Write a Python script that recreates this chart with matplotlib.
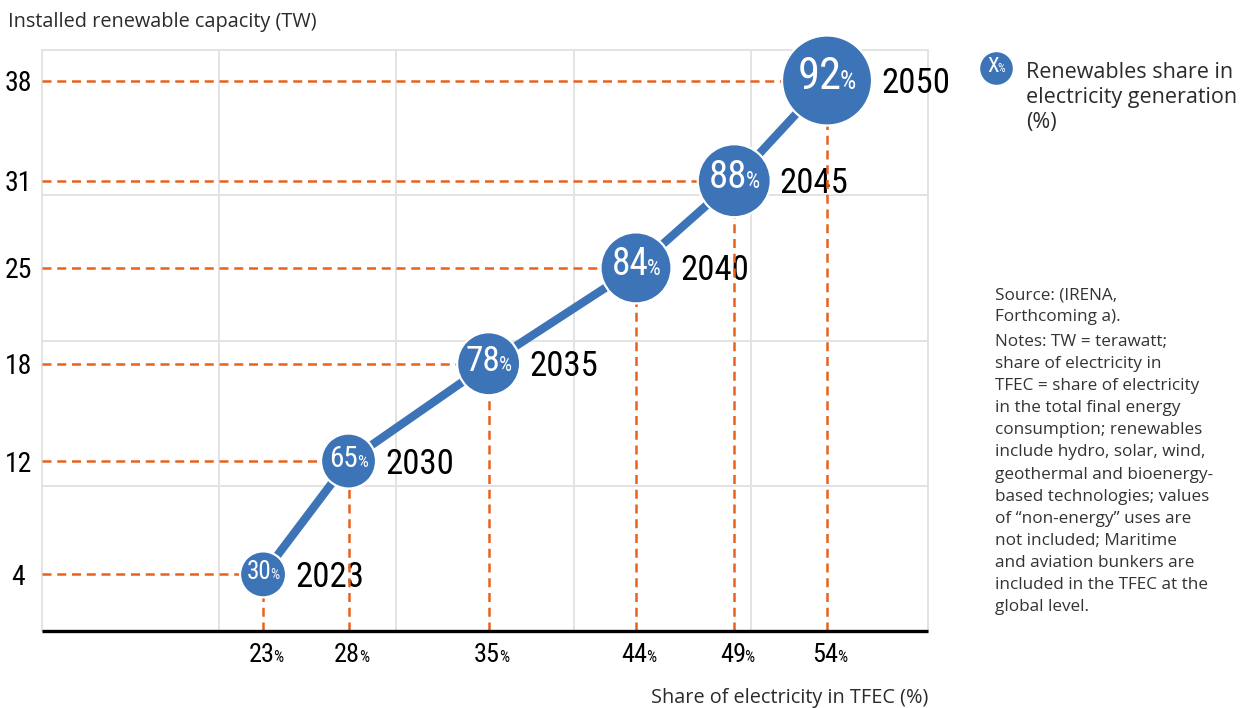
import matplotlib
matplotlib.use("Agg")
import matplotlib.pyplot as plt
from matplotlib import font_manager as fm
from matplotlib.offsetbox import TextArea, HPacker, AnnotationBbox

# ---------------- data ----------------
years = [2023, 2030, 2035, 2040, 2045, 2050]
elec_share_tfec = [23.0, 27.7, 35.4, 43.5, 48.9, 54.0]      # x (%)
capacity_tw = [3.9, 11.7, 18.4, 25.0, 31.0, 37.9]           # y (TW)
renewables_share = [30, 65, 78, 84, 88, 92]                 # bubble label (%)
x_tick_labels = ["23", "28", "35", "44", "49", "54"]
y_tick_labels = ["4", "12", "18", "25", "31", "38"]

# ---------------- styles ----------------
W, H, DPI = 1253, 708, 100
PX = 72.0 / DPI                      # points per pixel
bubble_radius_px = [23, 27.5, 31.5, 35.5, 36.5, 45]
bubble_font_pt = [18, 21, 25.5, 27, 28, 32]
BLUE = "#3D74B8"
ORANGE = "#E8621E"
GRID = "#E3E3E3"
BODY = ["Open Sans", "DejaVu Sans"]


def pick_condensed():
    entries = fm.fontManager.ttflist
    names = {e.name for e in entries}
    for p in ["Roboto Condensed", "Liberation Sans Narrow", "Open Sans Condensed",
              "Noto Sans Condensed", "DejaVu Sans Condensed", "Arial Narrow"]:
        if p in names:
            return {"family": [p, "DejaVu Sans"], "stretch": "normal"}
    best = None
    for e in entries:
        st = str(e.stretch).lower()
        nm = e.name.lower()
        if ("condensed" in st or "narrow" in nm or "condensed" in nm) and \
                str(e.style) == "normal" and str(e.weight) in ("400", "normal", "regular"):
            if best is None or (st == "condensed" and str(best.stretch) != "condensed"):
                best = e
    if best is not None:
        return {"family": [best.name, "DejaVu Sans"], "stretch": best.stretch}
    return {"family": ["Roboto", "DejaVu Sans"], "stretch": "normal"}


CF = pick_condensed()

fig = plt.figure(figsize=(W / DPI, H / DPI), dpi=DPI)
ax = fig.add_axes([42 / W, 77 / H, 886 / W, 581 / H])
ax.set_xlim(10.85, 59.55)
ax.set_ylim(0, 40)

# grid (decorative box grid)
for f in [0, 0.2, 0.4, 0.6, 0.8, 1.0]:
    ax.plot([f, f], [0, 1], transform=ax.transAxes, color=GRID, lw=1.4, zorder=0, clip_on=False)
for f in [0.25, 0.5, 0.75, 1.0]:
    ax.plot([0, 1], [f, f], transform=ax.transAxes, color=GRID, lw=1.4, zorder=0, clip_on=False)
for s in ax.spines.values():
    s.set_visible(False)
ax.plot([0, 1], [0, 0], transform=ax.transAxes, color="black", lw=2.4, zorder=6,
        clip_on=False, solid_capstyle="butt")

# dashed guide lines
x0 = ax.get_xlim()[0]
for x, y in zip(elec_share_tfec, capacity_tw):
    ax.plot([x0, x], [y, y], color=ORANGE, lw=1.8, ls=(0, (3.6, 2.3)), zorder=2)
    ax.plot([x, x], [0, y], color=ORANGE, lw=1.8, ls=(0, (3.6, 2.3)), zorder=2)

# connector
ax.plot(elec_share_tfec, capacity_tw, color=BLUE, lw=6, zorder=3, solid_capstyle="butt")

# bubbles
sizes = [(2 * r * PX) ** 2 for r in bubble_radius_px]
ax.scatter(elec_share_tfec, capacity_tw, s=sizes, color=BLUE, edgecolor="white",
           linewidth=1.6, zorder=4, clip_on=False)


def num_pct(num, size, color, pct_ratio=0.58):
    return HPacker(children=[
        TextArea(num, textprops=dict(color=color, size=size, **CF)),
        TextArea("%", textprops=dict(color=color, size=size * pct_ratio, **CF)),
    ], align="baseline", pad=0, sep=-size * 0.05)


# bubble labels
for x, y, v, fs in zip(elec_share_tfec, capacity_tw, renewables_share, bubble_font_pt):
    ab = AnnotationBbox(num_pct(str(v), fs, "white"), (x, y), xycoords="data", frameon=False,
                        box_alignment=(0.5, 0.42), zorder=5, annotation_clip=False)
    ax.add_artist(ab)

# year labels
for x, y, yr, r in zip(elec_share_tfec, capacity_tw, years, bubble_radius_px):
    ax.annotate(str(yr), (x, y), xytext=((r + 9) * PX, -3 * PX), textcoords="offset points",
                ha="left", va="center", size=25, color="black", zorder=1,
                annotation_clip=False, **CF)

# y tick labels
ax.set_yticks(capacity_tw, labels=y_tick_labels)
ax.tick_params(axis="y", length=0, pad=23.5 * PX, labelsize=20)
for lbl in ax.get_yticklabels():
    lbl.set_ha("center")
    lbl.set_family(CF["family"])
    lbl.set_stretch(CF["stretch"])
ax.set_xticks([])

# x tick labels (number + small %)
for x, t in zip(elec_share_tfec, x_tick_labels):
    ab = AnnotationBbox(num_pct(t, 19, "black", 0.6), (x, 0), xycoords=("data", "axes fraction"),
                        xybox=(3 * PX, -24 * PX), boxcoords="offset points",
                        frameon=False, box_alignment=(0.5, 0.5), annotation_clip=False)
    ax.add_artist(ab)

# axis titles
fig.text(8 / W, 1 - 26.5 / H, "Installed renewable capacity (TW)", ha="left", va="baseline",
         size=14.3, family=BODY, color="#2b2b2b")
fig.text(928 / W, 1 - 703 / H, "Share of electricity in TFEC (%)", ha="right", va="baseline",
         size=14.3, family=BODY, color="#2b2b2b")

# legend
ax.scatter([996 / W], [1 - 68 / H], s=(2 * 17 * PX) ** 2, color=BLUE, edgecolor="white",
           linewidth=1, transform=fig.transFigure, clip_on=False, zorder=4)
fig.add_artist(AnnotationBbox(num_pct("X", 15, "white"), (996 / W, 1 - 68 / H),
                              xycoords="figure fraction", frameon=False,
                              box_alignment=(0.5, 0.42), annotation_clip=False))
for i, line in enumerate(["Renewables share in", "electricity generation", "(%)"]):
    fig.text(1026 / W, 1 - (78 + 25 * i) / H, line, ha="left", va="baseline",
             size=15.5, family=BODY, color="#2b2b2b")

# source & notes
source_lines = ["Source: (IRENA,", "Forthcoming a)."]
notes_lines = ["Notes: TW = terawatt;", "share of electricity in",
               "TFEC = share of electricity", "in the total final energy",
               "consumption; renewables", "include hydro, solar, wind,",
               "geothermal and bioenergy-", "based technologies; values",
               "of \u201cnon-energy\u201d uses are", "not included; Maritime",
               "and aviation bunkers are", "included in the TFEC at the", "global level."]
for i, line in enumerate(source_lines):
    fig.text(995 / W, 1 - (299 + 22.3 * i) / H, line, ha="left", va="baseline",
             size=12.3, family=BODY, color="#333333")
for i, line in enumerate(notes_lines):
    fig.text(995 / W, 1 - (346 + 22.1 * i) / H, line, ha="left", va="baseline",
             size=12.3, family=BODY, color="#333333")

fig.savefig("out.png", dpi=DPI)
